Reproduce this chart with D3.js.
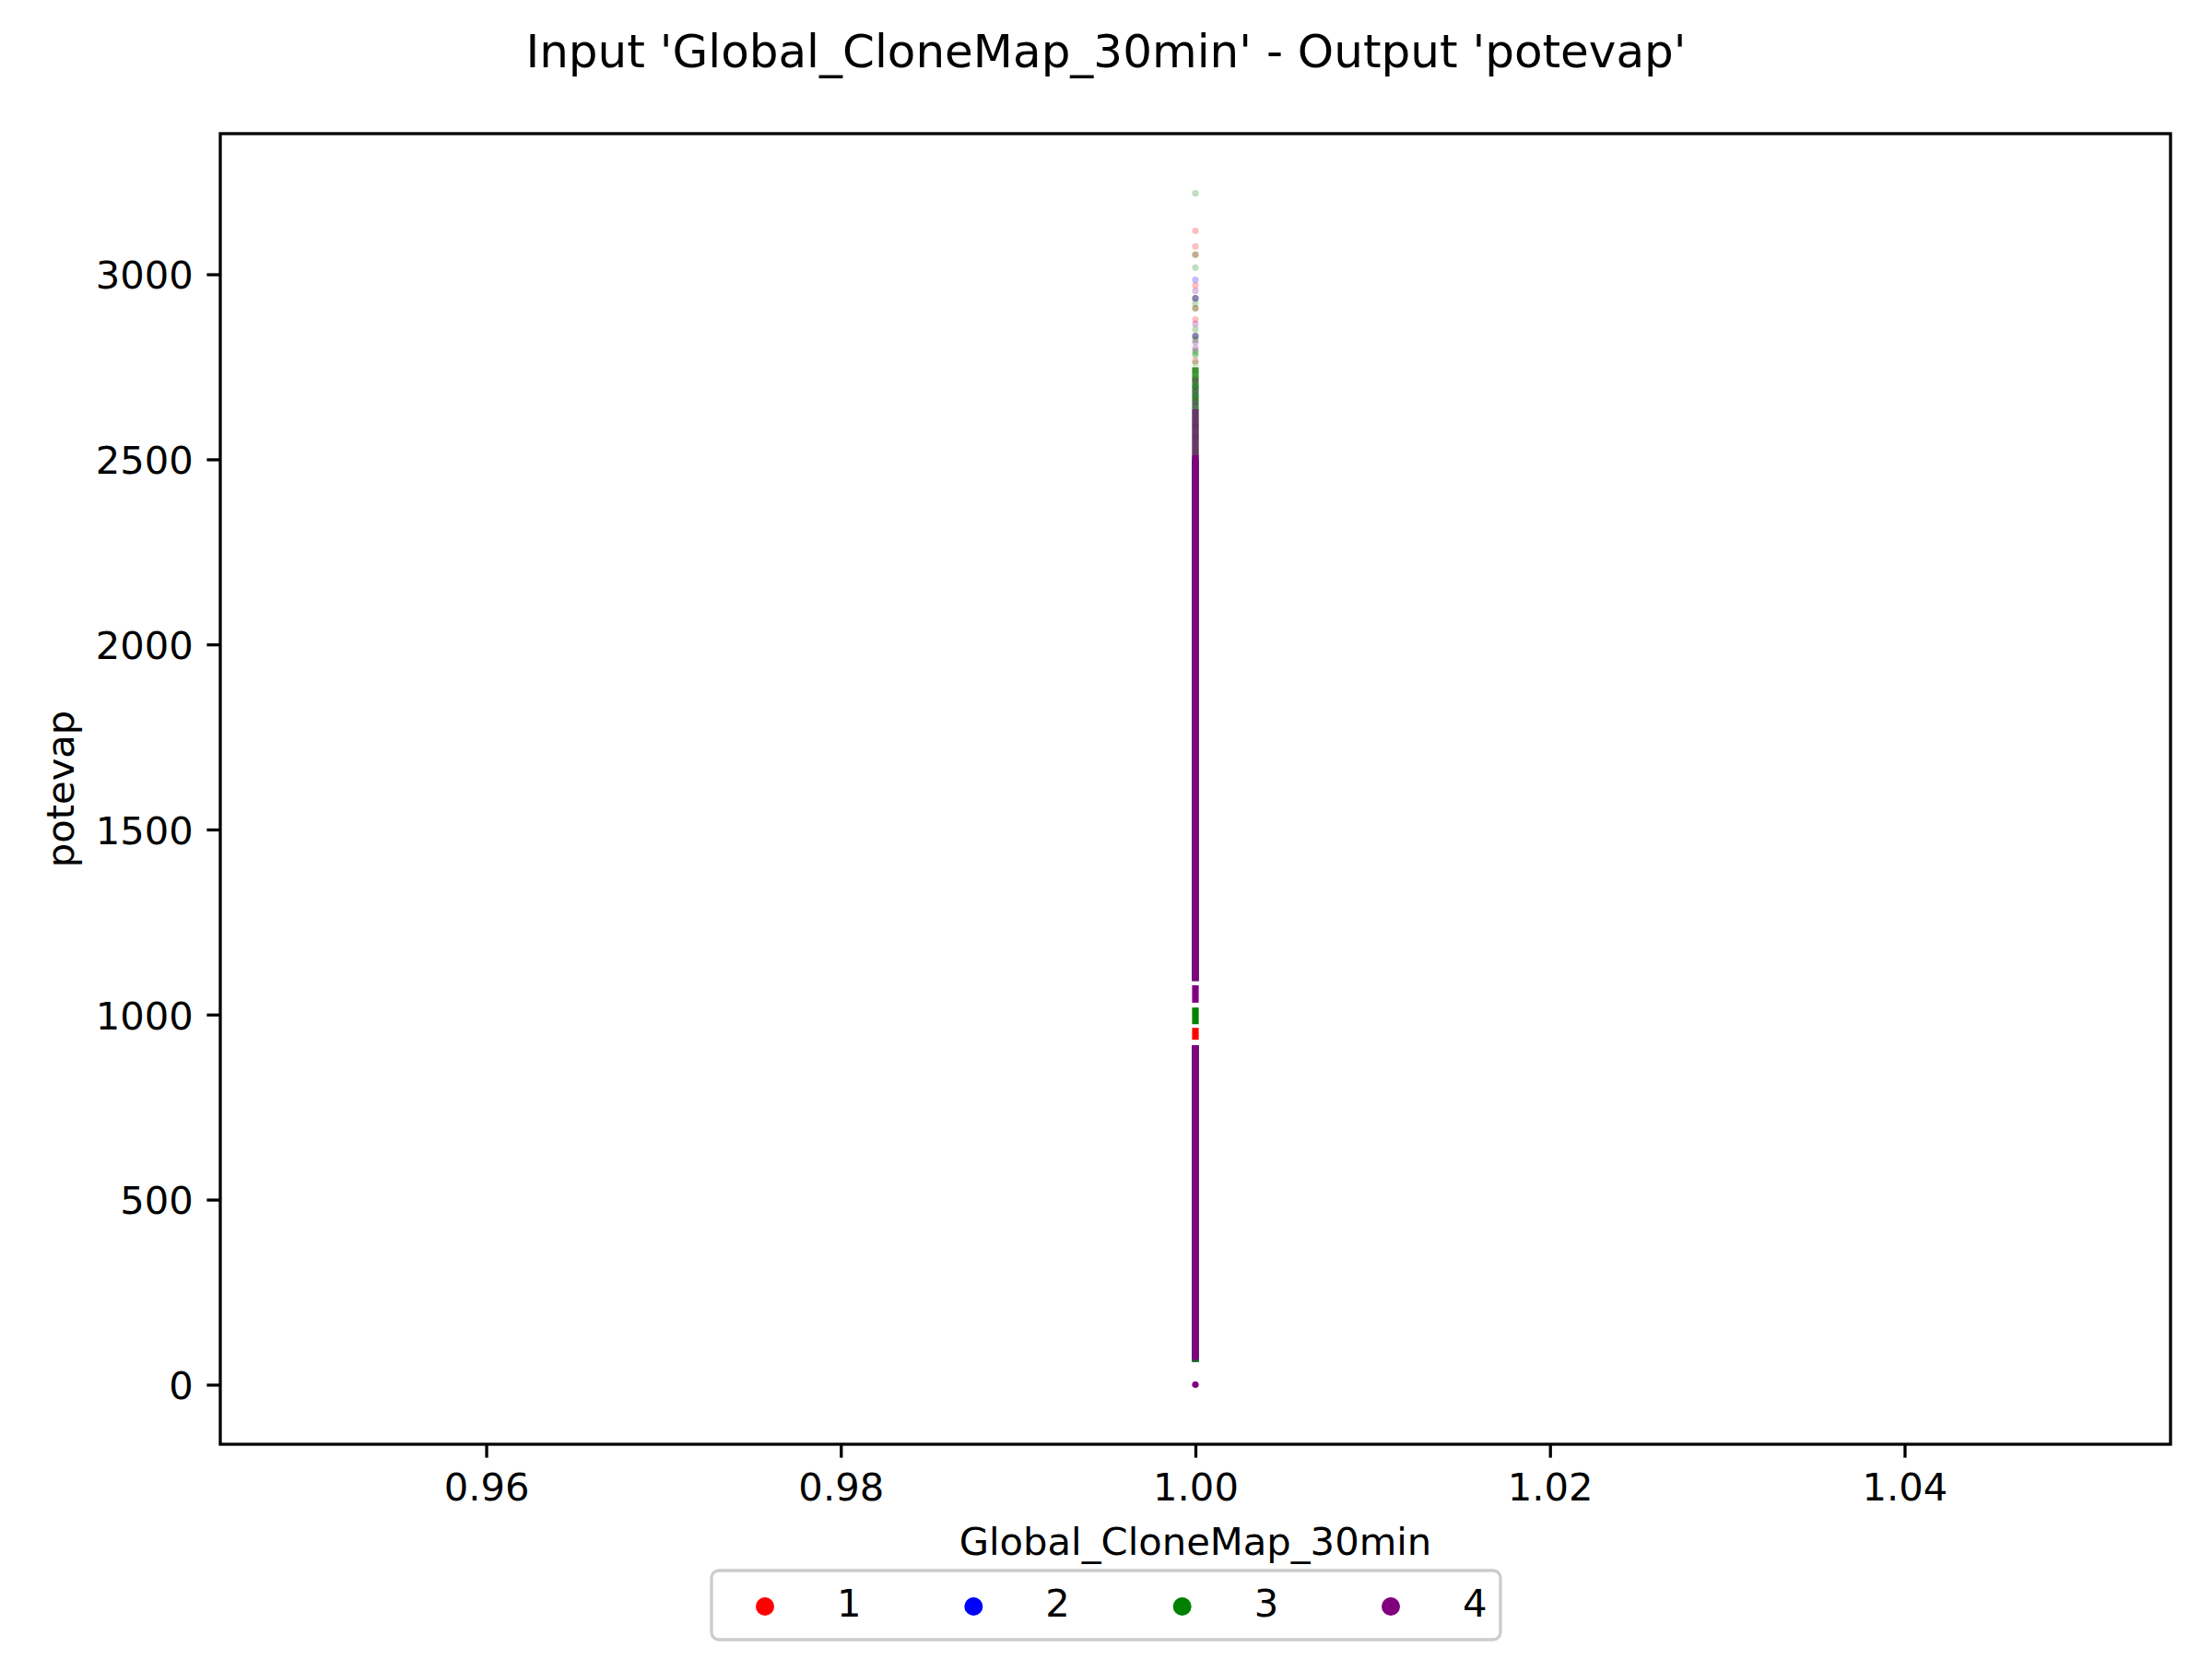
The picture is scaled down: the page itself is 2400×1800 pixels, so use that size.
<!DOCTYPE html>
<html>
<head>
<meta charset="utf-8">
<script src="https://cdn.jsdelivr.net/npm/d3@7/dist/d3.min.js"></script>
<style>
  body { margin: 0; background: #fff; }
  text { font-family: "DejaVu Sans", sans-serif; fill: #000; }
</style>
</head>
<body>
<svg id="chart" width="2400" height="1800"></svg>
<script>
// ---- data ----
const seriesNames = ["1", "2", "3", "4"];
const xValue = 1.0;                       // every cell sits on Global_CloneMap_30min = 1
const xTicks = [0.96, 0.98, 1.00, 1.02, 1.04];
const yTicks = [0, 500, 1000, 1500, 2000, 2500, 3000];

// stretches of potevap where points overlap into a solid column [from, to]
const redRuns = [[62, 917], [932, 964], [1091, 2500]];
const blueRuns = [[62, 917], [1091, 2500]];
const greenRuns = [[62, 917], [974, 1019], [1091, 2512]];
const purpleRuns = [[0, 0], [67, 917], [1032, 1079], [1091, 2512]];

// stretches that are only partly filled
const redLooseRuns = [];
const blueLooseRuns = [];
const greenLooseRuns = [[2512, 2749]];
const purpleLooseRuns = [[2512, 2636]];

// single, sparse points at the top
const redPoints = [3117, 3075, 3053, 2970, 2908, 2878, 2766, 2740, 2718, 2697, 2664, 2590, 2560];
const bluePoints = [2985, 2935, 2833, 2695, 2671];
const greenPoints = [3219, 3053, 3018, 2935, 2921, 2908, 2851, 2833, 2823, 2793, 2787, 2781, 2760];
const purplePoints = [2955, 2935, 2866, 2833, 2816, 2800, 2712, 2683, 2656, 2645];

// ---- layout ----
const W = 2400, H = 1800;
const box = { left: 239, right: 2355, top: 145, bottom: 1567 };
const fs = 41.7;          // 10pt at 300 dpi
const lw = 3.3;           // 0.8pt
const tickLen = 14.6, tickPad = 14.6;

const colors = d3.scaleOrdinal().domain(seriesNames).range(["red", "blue", "green", "purple"]);

const runs = [redRuns, blueRuns, greenRuns, purpleRuns];
const looseRuns = [redLooseRuns, blueLooseRuns, greenLooseRuns, purpleLooseRuns];
const points = [redPoints, bluePoints, greenPoints, purplePoints];

// matplotlib style limits: 5% margin round the data
const allY = [...runs.flat(2), ...looseRuns.flat(2), ...points.flat()];
const [ymin, ymax] = d3.extent(allY);
const ypad = (ymax - ymin) * 0.05;
const xlo = xValue - 0.05 * Math.abs(xValue), xhi = xValue + 0.05 * Math.abs(xValue);
const xpad = (xhi - xlo) * 0.05;

const x = d3.scaleLinear().domain([xlo - xpad, xhi + xpad]).range([box.left, box.right]);
const y = d3.scaleLinear().domain([ymin - ypad, ymax + ypad]).range([box.bottom, box.top]);

const svg = d3.select("#chart");
svg.append("rect").attr("width", W).attr("height", H).attr("fill", "#fff");

const plot = svg.append("g");
const colW = 7.2, dotR = 3.6;

seriesNames.forEach((name, i) => {
    const g = plot.append("g").attr("class", "series s" + name);
    const c = colors(name);

    g.selectAll("line.run")
        .data(runs[i].filter(d => d[0] !== d[1]))
        .join("line")
        .attr("class", "run")
        .attr("x1", x(xValue)).attr("x2", x(xValue))
        .attr("y1", d => y(d[0])).attr("y2", d => y(d[1]))
        .attr("stroke", c)
        .attr("stroke-width", colW);

    // a run of one value: many cells stacked on the same spot
    g.selectAll("circle.stack")
        .data(runs[i].filter(d => d[0] === d[1]))
        .join("circle")
        .attr("class", "stack")
        .attr("cx", x(xValue))
        .attr("cy", d => y(d[0]))
        .attr("r", dotR)
        .attr("fill", c);

    g.selectAll("line.loose")
        .data(looseRuns[i])
        .join("line")
        .attr("class", "loose")
        .attr("x1", x(xValue)).attr("x2", x(xValue))
        .attr("y1", d => y(d[0])).attr("y2", d => y(d[1]))
        .attr("stroke", c)
        .attr("stroke-opacity", name === "4" ? 0.65 : 0.75)
        .attr("stroke-width", colW);

    g.selectAll("circle.pt")
        .data(points[i])
        .join("circle")
        .attr("class", "pt")
        .attr("cx", x(xValue))
        .attr("cy", d => y(d))
        .attr("r", dotR)
        .attr("fill", c)
        .attr("fill-opacity", 0.25);
});

// ---- axes ----
const xAxis = d3.axisBottom(x)
    .tickValues(xTicks)
    .tickFormat(d3.format(".2f"))
    .tickSize(tickLen)
    .tickPadding(tickPad);
const yAxis = d3.axisLeft(y)
    .tickValues(yTicks)
    .tickFormat(d3.format("d"))
    .tickSize(tickLen)
    .tickPadding(tickPad);

const gx = svg.append("g").attr("transform", `translate(0,${box.bottom})`).call(xAxis);
const gy = svg.append("g").attr("transform", `translate(${box.left},0)`).call(yAxis);
[gx, gy].forEach(g => {
    g.select(".domain").remove();
    g.selectAll(".tick line").attr("stroke", "#000").attr("stroke-width", lw);
    g.selectAll(".tick text")
        .attr("font-family", "DejaVu Sans")
        .attr("font-size", fs)
        .attr("fill", "#000");
});
gx.selectAll(".tick text").attr("dy", null).attr("y", tickLen + tickPad + 0.76 * fs);
gy.selectAll(".tick text").attr("dy", "0.365em");

svg.append("rect")
    .attr("x", box.left).attr("y", box.top)
    .attr("width", box.right - box.left).attr("height", box.bottom - box.top)
    .attr("fill", "none")
    .attr("stroke", "#000")
    .attr("stroke-width", lw)
    .attr("stroke-linejoin", "miter");

// ---- titles ----
svg.append("text")
    .attr("x", W / 2).attr("y", 73)
    .attr("text-anchor", "middle")
    .attr("font-size", 50)
    .text("Input 'Global_CloneMap_30min' - Output 'potevap'");

svg.append("text")
    .attr("x", (box.left + box.right) / 2).attr("y", 1687)
    .attr("text-anchor", "middle")
    .attr("font-size", fs)
    .text("Global_CloneMap_30min");

svg.append("text")
    .attr("transform", `translate(80,${(box.top + box.bottom) / 2}) rotate(-90)`)
    .attr("text-anchor", "middle")
    .attr("font-size", fs)
    .text("potevap");

// ---- legend ----
const legend = svg.append("g");
legend.append("rect")
    .attr("x", 772).attr("y", 1704)
    .attr("width", 856).attr("height", 75)
    .attr("rx", 8).attr("ry", 8)
    .attr("fill", "#fff").attr("fill-opacity", 0.8)
    .attr("stroke", "#cccccc").attr("stroke-width", lw);

const lx = d3.scalePoint().domain(seriesNames).range([830, 1509]);
const items = legend.selectAll("g.item")
    .data(seriesNames)
    .join("g")
    .attr("class", "item")
    .attr("transform", d => `translate(${lx(d)},1743)`);
items.append("circle")
    .attr("r", 10)
    .attr("fill", d => colors(d));
items.append("text")
    .attr("x", 78).attr("y", 11)
    .attr("font-size", fs)
    .text(d => d);
</script>
</body>
</html>
